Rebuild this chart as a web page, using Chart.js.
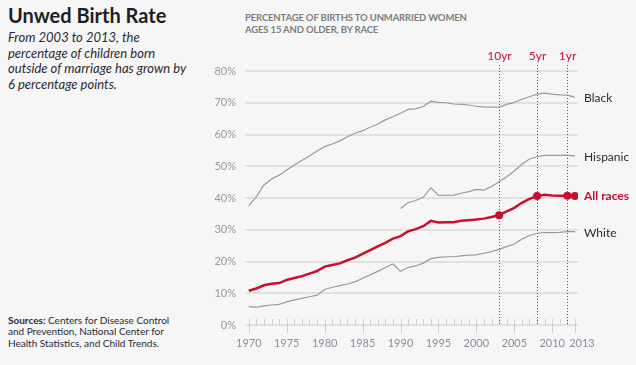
<!DOCTYPE html>
<html>
<head>
<meta charset="utf-8">
<script src="https://cdn.jsdelivr.net/npm/chart.js@4"></script>
<style>
  html, body { margin: 0; padding: 0; background: #f6f6f6; }
  body { width: 636px; height: 365px; position: relative; overflow: hidden; font-family: Lato, "Noto Sans", sans-serif; }
  #wrap { position: absolute; left: 0; top: 0; width: 636px; height: 365px; }
  .title { position: absolute; left: 8px; top: 3px; font-size: 20px; font-weight: bold; color: #1e1e24; }
  .dek { position: absolute; left: 8px; top: 30px; font-size: 13px; line-height: 15.5px; font-style: italic; color: #2a2a33; }
  .head { position: absolute; left: 245px; top: 12px; font-size: 9.5px; line-height: 12.3px; letter-spacing: -0.15px; font-weight: bold; color: #7d7d7d; }
  .src { position: absolute; left: 8px; top: 315px; font-size: 10px; line-height: 11.4px; color: #2a2a33; }
</style>
</head>
<body>
<div class="title">Unwed Birth Rate</div>
<div class="dek">From 2003 to 2013, the<br>percentage of children born<br>outside of marriage has grown by<br>6 percentage points.</div>
<div class="head">PERCENTAGE OF BIRTHS TO UNMARRIED WOMEN<br>AGES 15 AND OLDER, BY RACE</div>
<div class="src"><b>Sources:</b> Centers for Disease Control<br>and Prevention, National Center for<br>Health Statistics, and Child Trends.</div>
<div id="wrap"><canvas id="chart"></canvas></div>
<script>
// data
const years = [1970, 1971, 1972, 1973, 1974, 1975, 1976, 1977, 1978, 1979,
               1980, 1981, 1982, 1983, 1984, 1985, 1986, 1987, 1988, 1989,
               1990, 1991, 1992, 1993, 1994, 1995, 1996, 1997, 1998, 1999,
               2000, 2001, 2002, 2003, 2004, 2005, 2006, 2007, 2008, 2009,
               2010, 2011, 2012, 2013];
const black = [37.6, 40.4, 44.1, 46.0, 47.2, 48.8, 50.4, 51.8, 53.2, 54.8,
               56.2, 57.0, 58.0, 59.3, 60.4, 61.2, 62.3, 63.3, 64.6, 65.6,
               66.7, 67.9, 68.1, 68.8, 70.5, 70.1, 70.0, 69.6, 69.5, 69.3,
               68.9, 68.7, 68.6, 68.6, 69.5, 70.1, 71.1, 71.9, 72.7, 73.0,
               72.7, 72.5, 72.4, 71.7];
const hispanic = [null, null, null, null, null, null, null, null, null, null,
                  null, null, null, null, null, null, null, null, null, null,
                  36.7, 38.5, 39.2, 40.2, 43.2, 40.9, 40.8, 40.9, 41.5, 42.0,
                  42.7, 42.5, 43.6, 45.1, 46.7, 48.5, 50.6, 52.3, 53.0, 53.4,
                  53.4, 53.4, 53.5, 53.2];
const allRaces = [10.8, 11.5, 12.5, 13.0, 13.2, 14.2, 14.8, 15.4, 16.2, 17.0,
                  18.4, 18.9, 19.4, 20.4, 21.2, 22.4, 23.6, 24.8, 25.9, 27.2,
                  28.0, 29.5, 30.2, 31.1, 32.8, 32.3, 32.4, 32.4, 32.8, 33.0,
                  33.2, 33.5, 34.0, 34.6, 35.8, 36.9, 38.5, 39.7, 40.6, 41.0,
                  40.8, 40.7, 40.7, 40.6];
const white = [5.8, 5.6, 6.0, 6.3, 6.5, 7.3, 7.9, 8.4, 8.9, 9.4,
               11.2, 11.9, 12.4, 12.9, 13.6, 14.7, 15.8, 16.9, 18.1, 19.2,
               16.9, 18.1, 18.6, 19.5, 20.9, 21.3, 21.5, 21.5, 21.8, 22.0,
               22.1, 22.6, 23.1, 23.8, 24.7, 25.5, 27.0, 28.2, 28.9, 29.1,
               29.1, 29.2, 29.4, 29.4];
const yTicks = [0, 10, 20, 30, 40, 50, 60, 70, 80];
const xLabels = [1970, 1975, 1980, 1985, 1990, 1995, 2000, 2005, 2010, 2013];
const markYears = [2003, 2008, 2012];
const markNames = ['10yr', '5yr', '1yr'];
const dotYears = [2003, 2008, 2012, 2013];

const RED = '#c8102e';
const GREY = '#9a9a9a';

function pts(arr) {
  return years.map(function(y, i) { return { x: y, y: arr[i] }; });
}

// grid, axis ticks, labels, milestone lines
const decor = {
  id: 'decor',
  beforeDatasetsDraw: function(chart) {
    var ctx = chart.ctx, xs = chart.scales.x, ys = chart.scales.y;
    var a = chart.chartArea;
    ctx.save();
    ctx.strokeStyle = '#dadada';
    ctx.lineWidth = 1.5;
    yTicks.forEach(function(t) {
      var y = Math.round(ys.getPixelForValue(t));
      ctx.beginPath(); ctx.moveTo(a.left, y); ctx.lineTo(a.right, y); ctx.stroke();
    });
    ctx.fillStyle = '#9a9a9a';
    ctx.font = '11px Lato';
    ctx.textAlign = 'right';
    ctx.textBaseline = 'middle';
    yTicks.forEach(function(t) {
      ctx.fillText(t + '%', 236, ys.getPixelForValue(t));
    });
    // year ticks
    var base = ys.getPixelForValue(0);
    ctx.strokeStyle = '#cfcfcf';
    ctx.lineWidth = 1;
    years.forEach(function(yr) {
      var x = Math.round(xs.getPixelForValue(yr)) + 0.5;
      var major = xLabels.indexOf(yr) >= 0;
      ctx.beginPath(); ctx.moveTo(x, base - 6); ctx.lineTo(x, base + (major ? 8 : 0)); ctx.stroke();
    });
    ctx.fillStyle = '#8a8e9c';
    ctx.textAlign = 'center';
    xLabels.forEach(function(yr) {
      var x = xs.getPixelForValue(yr);
      if (yr === 2013) x += 7;
      ctx.fillText(String(yr), x, 343);
    });
    // milestone lines
    ctx.strokeStyle = '#555';
    ctx.setLineDash([1, 2]);
    markYears.forEach(function(yr, i) {
      var x = Math.round(xs.getPixelForValue(yr)) + 0.5;
      ctx.beginPath(); ctx.moveTo(x, 65); ctx.lineTo(x, base); ctx.stroke();
      ctx.fillStyle = RED;
      ctx.font = '12px Lato';
      ctx.fillText(markNames[i], x, 56);
    });
    ctx.restore();
  },
  afterDatasetsDraw: function(chart) {
    var ctx = chart.ctx, ys = chart.scales.y;
    ctx.save();
    ctx.textAlign = 'left';
    ctx.textBaseline = 'middle';
    chart.data.datasets.forEach(function(ds) {
      var last = ds.data[ds.data.length - 1].y;
      ctx.font = (ds.bold ? 'bold ' : '') + '12px Lato';
      ctx.fillStyle = ds.bold ? RED : '#2a2a35';
      ctx.fillText(ds.label, 584, ys.getPixelForValue(last) + (ds.bold ? 0 : 1));
    });
    ctx.restore();
  }
};

var ctx = document.getElementById('chart').getContext('2d');
new Chart(ctx, {
  type: 'line',
  data: {
    datasets: [
      { label: 'Black', data: pts(black), borderColor: GREY, borderWidth: 1.2, pointRadius: 0 },
      { label: 'Hispanic', data: pts(hispanic), borderColor: GREY, borderWidth: 1.2, pointRadius: 0 },
      { label: 'White', data: pts(white), borderColor: GREY, borderWidth: 1.2, pointRadius: 0 },
      { label: 'All races', bold: true, data: pts(allRaces), borderColor: RED, borderWidth: 2.5,
        backgroundColor: RED,
        pointRadius: function(c) { return dotYears.indexOf(c.raw.x) >= 0 ? 4 : 0; },
        pointBorderWidth: 0 }
    ]
  },
  options: {
    responsive: true,
    maintainAspectRatio: false,
    animation: false,
    layout: { padding: { left: 245, right: 58, top: 71, bottom: 40 } },
    plugins: { legend: { display: false }, tooltip: { enabled: false } },
    elements: { line: { tension: 0 } },
    scales: {
      x: { type: 'linear', min: 1969.5, max: 2013.4, display: false },
      y: { min: 0, max: 80, display: false }
    }
  },
  plugins: [decor]
});
</script>
</body>
</html>
